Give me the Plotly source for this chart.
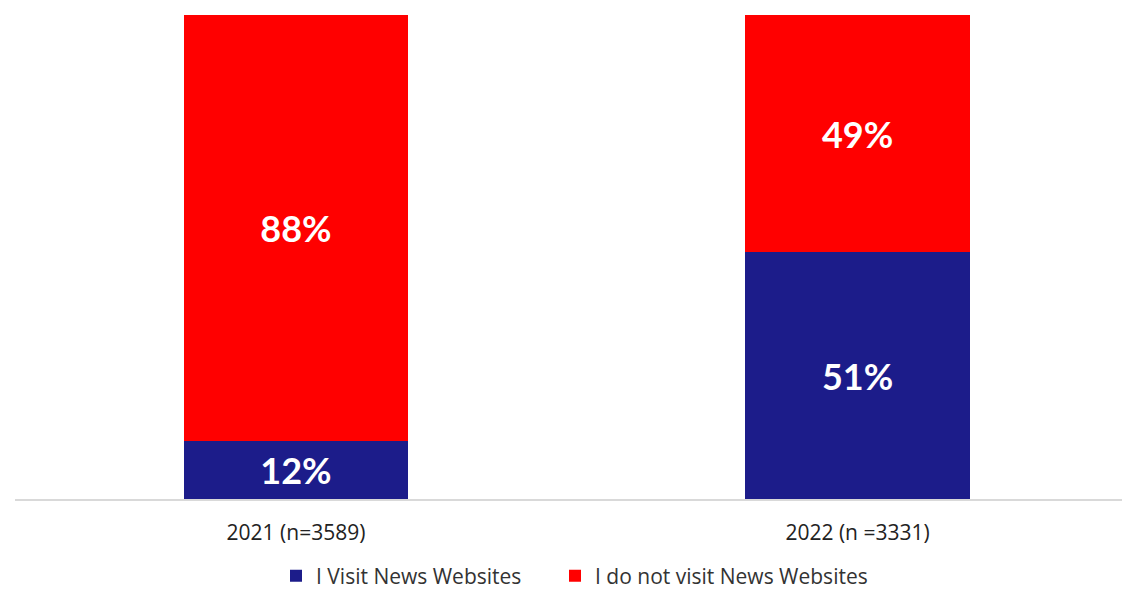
import plotly.graph_objects as go

# Survey years with sample sizes
categories = ["2021 (n=3589)", "2022 (n =3331)"]
visit_share = [12, 51]        # % who visit news websites
no_visit_share = [88, 49]     # % who do not visit news websites

series_names = ["I Visit News Websites", "I do not visit News Websites"]
colors = ["#1c1c8a", "#ff0000"]
legend_ids = ["legend", "legend2"]

x_pos = list(range(len(categories)))

fig = go.Figure()
for name, vals, col, lg in zip(series_names, [visit_share, no_visit_share], colors, legend_ids):
    fig.add_trace(go.Bar(
        x=x_pos, y=vals, name=name,
        marker=dict(color=col, line=dict(width=0)),
        width=0.4,
        text=[f"{v}%" for v in vals],
        textposition="inside",
        insidetextanchor="middle",
        textfont=dict(color="white", size=36, family="Lato", weight="bold"),
        hoverinfo="skip",
        legend=lg,
    ))

plot_left, plot_w, plot_h, plot_bottom = 15, 1107, 484, 499
legend_style = dict(
    orientation="h", y=-(576 - plot_bottom) / plot_h, yanchor="middle", xanchor="left",
    font=dict(size=21, color="#333333"), itemwidth=30,
    bgcolor="rgba(0,0,0,0)",
)

fig.update_layout(
    barmode="stack",
    width=1122, height=589,
    margin=dict(l=15, r=0, t=15, b=90, autoexpand=False),
    paper_bgcolor="white", plot_bgcolor="white",
    font=dict(family="Open Sans", color="#222222"),
    showlegend=True,
    legend=dict(x=(276 - plot_left) / plot_w, **legend_style),
    legend2=dict(x=(555 - plot_left) / plot_w, **legend_style),
    xaxis=dict(
        tickmode="array", tickvals=x_pos, ticktext=categories,
        range=[-0.5004, 1.471],
        showline=True, linecolor="#d9d9d9", linewidth=1.5,
        showgrid=False, zeroline=False, ticks="",
        ticklabelstandoff=14,
        tickfont=dict(size=21, color="#222222"),
    ),
    yaxis=dict(range=[0, 100], visible=False, showgrid=False, zeroline=False),
)

fig.write_html("out.html")
